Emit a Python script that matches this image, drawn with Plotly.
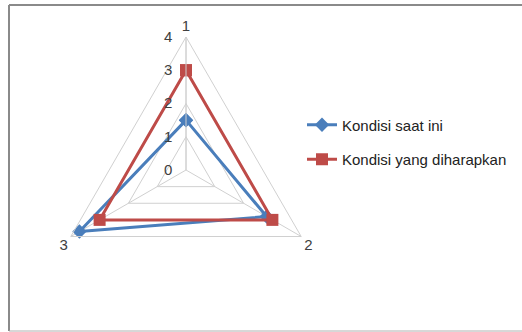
import plotly.graph_objects as go

categories = ['1', '2', '3']
kondisi_saat_ini = [1.5, 2.8, 3.7]
kondisi_diharapkan = [3, 3, 3]
radial_ticks = [0, 1, 2, 3, 4]

W, H = 522, 332
BLUE = '#4a7ebb'
RED = '#be4b48'
GRID = '#d0d0d0'
TEXT = '#404040'


def closed(values):
    # radar lines go back to the first point
    return list(values) + [values[0]]


fig = go.Figure()

fig.add_trace(go.Scatterpolar(r=closed(kondisi_saat_ini),
                              theta=closed(categories),
                              mode='lines+markers',
                              name='Kondisi saat ini',
                              legendgroup='a',
                              line=dict(color=BLUE, width=3),
                              marker=dict(symbol='diamond', size=11, color=BLUE)))

fig.add_trace(go.Scatterpolar(r=closed(kondisi_diharapkan),
                              theta=closed(categories),
                              mode='lines+markers',
                              name='Kondisi yang diharapkan',
                              legendgroup='b',
                              line=dict(color=RED, width=3),
                              marker=dict(symbol='square', size=12, color=RED)))

# center ~ (186,170), radius ~133 px
cx, cy, R = 186, 170, 133
fig.update_layout(
    width=W, height=H,
    margin=dict(l=0, r=0, t=0, b=0),
    paper_bgcolor='white',
    font=dict(family='Liberation Sans, Arial, sans-serif', size=13, color=TEXT),
    polar=dict(
        domain=dict(x=[(cx - R) / W, (cx + R) / W],
                    y=[1 - (cy + R) / H, 1 - (cy - R) / H]),
        bgcolor='white',
        gridshape='linear',
        radialaxis=dict(range=[0, 4], angle=90, tickangle=90,
                        side='counterclockwise', tickvals=radial_ticks,
                        showline=True, linecolor=GRID, gridcolor=GRID,
                        ticks='outside', ticklen=8, tickcolor='rgba(0,0,0,0)',
                        tickfont=dict(size=15, color=TEXT)),
        angularaxis=dict(rotation=90, direction='clockwise',
                         linecolor=GRID, gridcolor=GRID, ticks='',
                         tickfont=dict(size=15, color=TEXT)),
    ),
    legend=dict(x=302 / W, y=1 - 142 / H, yanchor='middle', xanchor='left',
                tracegroupgap=12, font=dict(size=15, color='#222')),
    shapes=[
        dict(type='line', xref='paper', yref='paper', x0=9 / W, x1=1,
             y0=1 - 5 / H, y1=1 - 5 / H, line=dict(color='#8a8a8a', width=2)),
        dict(type='line', xref='paper', yref='paper', x0=9 / W, x1=9 / W,
             y0=1 - 5 / H, y1=1 - 331 / H, line=dict(color='#8a8a8a', width=2)),
        dict(type='line', xref='paper', yref='paper', x0=9 / W, x1=1,
             y0=1 - 331 / H, y1=1 - 331 / H, line=dict(color='#b0b0b0', width=1)),
    ],
)

fig.write_html('out.html', config={'displayModeBar': False},
               post_script="document.body.style.margin='0';")
